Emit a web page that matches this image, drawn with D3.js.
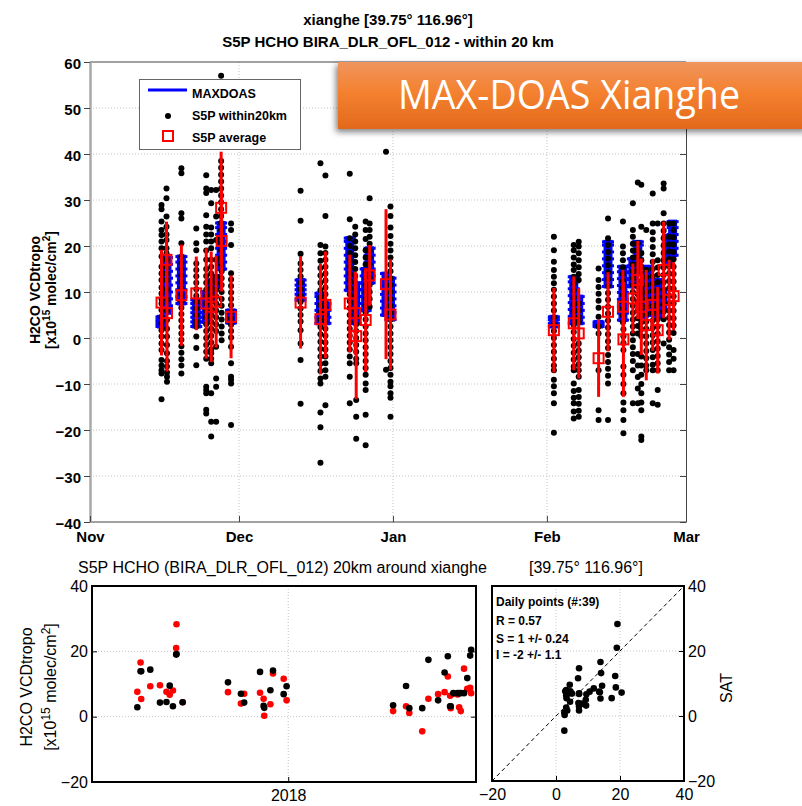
<!DOCTYPE html>
<html>
<head>
<meta charset="utf-8">
<script src="https://cdn.jsdelivr.net/npm/d3@7"></script>
<style>
  body { margin: 0; background: #fff; }
  svg { display: block; font-family: "Liberation Sans", Arial, sans-serif; }
</style>
</head>
<body>
<script>
// ---- data (days counted from 1 Nov 2017) ----
var monthDays = [0, 30, 61, 92, 120];
var monthNames = ["Nov", "Dec", "Jan", "Feb", "Mar"];
var mainYTicks = [-40, -30, -20, -10, 0, 10, 20, 30, 40, 50, 60];

// S5P overpasses: day, average, std and the single pixels within 20 km
var satDay = [14.4, 15.4, 15.5, 18.4, 21.4, 23.4, 24.4, 25.4, 26.4, 26.5, 28.4,
  42.4, 46.4, 47.4, 52.3, 53.4, 53.6, 55.5, 56.3, 59.6, 60.5,
  93.4, 97.4, 98.4, 102.4, 104.3, 107.3, 107.4, 109.3, 110.3, 111.0, 112.0, 113.3, 114.3, 115.5, 116.6, 117.5];
var satAvg = [7.7, 17.0, 5.4, 9.3, 9.7, 7.5, 6.8, 7.9, 28.3, 21.1, 4.6,
  7.7, 4.1, 7.2, 7.5, 5.4, 0.4, 3.9, 13.6, 11.7, 5.1,
  1.7, 3.2, 1.0, -4.4, 5.7, 6.8, -0.3, 8.6, 12.6, 6.8, 2.8, 7.2, 1.7, 14.8, 8.3, 9.1];
var satStd = [11.5, 8.3, 12.7, 11, 8, 12, 12, 10, 12.2, 11, 9,
  10, 12, 11.6, 10.6, 9, 13.7, 11.3, 6.6, 16.3, 12,
  9.2, 10.2, 9.8, 8.4, 8.6, 8, 12.5, 7.6, 8.5, 10.5, 12, 10, 9.4, 10.5, 8.7, 7.4];
var satPixels = [
  [28.9, 28, 25.3, 23.5, 22.4, 21, 19.5, 17.7, 15.5, 14, 12.6, 11, 9.7, 8.5, 7.5, 6.1, 4.6, 3.2, 1.7, 0.3, -1.2, -2.6, -4.8, -6, -7, -7.7, -13.3],
  [32.5, 30.4, 26.4, 24.2, 22.5, 21.3, 19.5, 18.4, 17, 15.5, 14, 12.6],
  [10.5, 8.3, 6, 3.9, 2, 0.3, -1.5, -3.3, -5, -6.2, -7.5, -8.4, -9.5],
  [36.9, 35.8, 27.1, 26, 20.6, 17.7, 16.3, 15, 13.6, 12.2, 10.8, 9.4, 8, 6.6, 5.2, 3.8, 2.4, 1, -0.4, -1.8, -3.2, -4.6, -6, -7.7],
  [23.8, 20.6, 19.1, 16.2, 14.8, 13.4, 12, 10.6, 9.2, 7.8, 6.4, 5, 3.6, 2.5, 0.3, -2.2, -5.9],
  [35.4, 32.5, 31.5, 26.7, 24.2, 22.5, 21, 19, 17, 15, 13.5, 12, 10.5, 9, 7.5, 6, 4.5, 3, 1.5, 0, -1.5, -3, -4.5, -10.6, -11.3, -12, -15.6, -16.4],
  [32.2, 29.3, 24, 22.5, 21, 19.5, 17, 15.5, 14, 12.5, 11, 9.5, 8, 6.5, 5, 3.5, 2, 0.5, -1, -2.5, -3.3, -4.5, -5.5, -12, -18.2, -21.4],
  [32.2, 26.4, 21.3, 17, 13.3, 12, 10.5, 9, 7.5, 6, 4.5, 3, 1.5, -1.9, -8.8, -10.6, -18.2],
  [57, 38.5, 37, 35.5, 34, 32.5, 31, 29.5, 28, 26.5, 25, 23.5, 22, 20.5, 19, 17.5, 16],
  [14.5, 13, 11.5, 10, 8.5, 7, 5.5, 4, 2.5, 1, -0.5],
  [24.9, 23.5, 20.2, 14.1, 12.7, 11.3, 9.9, 8.5, 7.1, 5.7, 4.3, 2.9, 1.5, 0.1, -1.9, -5.5, -8.4, -9.1, -9.9, -18.9],
  [32, 25.5, 18.3, 16.2, 14.8, 13.4, 12, 10.6, 9.2, 7.8, 6.4, 5, 3.6, 1.7, -1.2, -4.8, -14.3],
  [38, 20.2, 18.4, 16.8, 15.2, 13.6, 12, 10.4, 8.8, 7.2, 5.6, 4, 2.4, 0.8, -0.8, -2.4, -4, -5.6, -7.2, -8.8, -9.9, -16.2, -19.4, -27.1],
  [35.3, 26.5, 19.9, 18.5, 17, 15.5, 14, 12.5, 11, 9.5, 8, 6.5, 5, 3.5, 2, 0.5, -1, -2.5, -4, -5.5, -7, -8.4, -14.6],
  [35.7, 25.8, 21.7, 20, 18.5, 17, 15.5, 14, 12.5, 11, 9.5, 8, 6.5, 5, 3.5, 2, 0.5, -1, -2.5, -4, -5.5, -8.4, -14.2],
  [24.2, 22.5, 21, 19.5, 18, 16.5, 15, 13.5, 12, 10.5, 9, 7.5, 6],
  [4.5, 3, 1.5, 0, -1.5, -3, -4.5, -5.5, -13.5, -17.1, -21.9],
  [25.3, 23.5, 21.5, 19.1, 17.5, 16, 14.5, 13, 11.5, 10, 8.5, 7, 5.5, 4, 2.5, 1, -0.5, -2, -3.5, -5, -6.5, -8, -9.9, -11.3, -16.7, -23.3],
  [30.4, 24.9, 23.5, 22, 20.5, 19, 17.5, 16, 14.5, 13, 11.5, 10, 8.5, 6.8],
  [40.5, -6.9],
  [28.6, 26.5, 24, 22.2, 20.5, 19, 17.5, 16, 14.5, 13, 11.5, 10, 8.5, 7, 5.5, 4, 2.5, 1, -0.5, -2, -3.5, -5, -6.5, -8, -9.5, -10.5, -12, -13, -17.1],
  [22, 19.1, 16.6, 14.8, 13.3, 11.9, 10.5, 9, 7.5, 6, 4.5, 3, 1.5, 0, -1.5, -3, -4.5, -6, -7, -9.1, -10.5, -12, -14.2, -20.6],
  [20.2, 19.1, 17.5, 16, 14.8, 13.3, 11.8, 10.3, 8.8, 7.3, 5.8, 4.3, 2.8, 1.3, -0.2, -1.7, -3.2, -4.7, -6.2, -7, -9.9, -11.5, -13, -14.2, -16, -17.5],
  [20.9, 19.9, 18.4, 16.9, 15.4, 13.9, 12.6, 7.5, 6, 4.5, 3.5, -1.2, -2.7, -4.2, -5.7, -7, -8.4, -11.3, -12.8, -14.3, -15.8, -17.1],
  [15.1, 12.6, 11.1, 9.6, 8.1, 6.6, 4.6, 2.5, 1, -7, -15.7, -17.8],
  [26, 21.7, 20.2, 18.7, 17.3, 15.8, 14.3, 12.8, 11.3, 9.8, 8.3, 6.8, 5.3, 3.8, 2.3, 0.8, -0.7, -2.2, -3.7, -5.2, -6.7, -8.2, -9.9, -17.8],
  [25.3, 19.9, 18.4, 16.9, 15.4, 13.9, 12.4, 10.9, 9.4, 7.9, 6.4, 4.9, 3.4],
  [1.9, 0.4, -1.1, -2.6, -6.2, -8, -10, -12, -14, -15.7, -17.8, -20.7],
  [29.3, 23.5, 22, 20.5, 19, 17.5, 16, 14.5, 13, 11.5, 10, 8.5, 7, 5.5, 4, 2.5, 1, -0.5, -2, -3.5, -5, -7, -14.2],
  [33.8, 20.6, 19.1, 17.6, 16.1, 14.8, 11.2, 9.5, 7.8, 6, 4.3, 2.6, 1, -3.5, -6, -8.5, -11, -14.2],
  [33.3, 24.2, 18.4, 16.9, 15.4, 13.9, 12.4, 10.9, 9.4, 7.9, 6.4, 4.9, 3.4, 1.9, 0.4, -4, -6, -8, -10, -12, -14, -15.7, -21.4, -22.2],
  [23.5, 14.8, 13.2, 11.6, 10, 8.4, 6.8, 5.2, 3.6, 2, 0.4, -1.2, -2.8, -4.4, -6, -7],
  [31.4, 24.9, 23, 21.4, 19.8, 18.2, 16.6, 15, 13.4, 11.8, 10.2, 8.6, 7, 5.4, 3.8, 2.2, 0.6, -1, -2.6, -4.2, -5.8, -7, -14.2],
  [24.9, 16.9, 15.3, 13.7, 12.1, 10.5, 8.9, 7.3, 5.7, 4.1, 2.5, 0.9, -0.7, -2.3, -3.9, -5.5, -7, -11.3, -14.5],
  [33.6, 32.5, 27.1, 24.9, 23.3, 21.7, 20.1, 18.5, 16.9, 15.3, 13.7, 12.1, 10.5, 8.9, 7.3, 5.7, 4.1, -1.2],
  [24.9, 22, 20.4, 18.8, 17.2, 15.6, 14, 12.4, 10.8, 9.2, 7.6, 6, 4.4, 2.8, 1.2, -0.4, -2, -3.6, -5.2, -7],
  [24.9, 23.5, 21.9, 20.3, 18.7, 17.1, 15.5, 13.9, 12.3, 10.7, 9.1, 7.5, 5.9, 4.3, 2.7, 1.1, -2.6, -4.5, -7]
];

// MAXDOAS measurements per day
var doasDay = [14.4, 15.5, 18.4, 21.4, 23.4, 24.4, 25.4, 26.4, 28.4,
  42.4, 46.4, 47.4, 52.3, 53.5, 55.5, 56.3, 59.6, 60.5,
  93.4, 97.4, 98.4, 102.4, 104.3, 107.3, 109.3, 110.3, 111.3, 112.3, 113.3, 114.3, 115.3, 116.3, 117.3];
var doasVals = [
  [2.5, 3.0, 3.5, 4.0, 4.6],
  [5.5, 7, 8.5, 10, 11.5, 13, 14.5, 16, 17.5],
  [7.5, 9, 10.5, 12, 13.5, 15, 16.5, 17.7],
  [2.5, 3.5, 4.5, 5.5, 6.5, 7.5, 8.3],
  [3.5, 4.5, 5.5, 7, 8.5, 10],
  [8, 9.5, 11, 12.5],
  [11, 12.3, 13.5],
  [15, 16.5, 18, 19.5, 21, 22.5, 24, 25],
  [3.3, 4.2, 5, 6],
  [8.3, 9.5, 10.5, 11.5, 12.6],
  [3.2, 4.5, 6, 7.5, 9, 9.7],
  [3.2, 4.5, 6, 7.5],
  [10.4, 12, 13.5, 15, 16.5, 18, 19.5, 21, 21.7],
  [3.2, 4.5, 6, 7.5, 9, 10.5, 11.9],
  [6, 7.5, 9, 10.5, 12, 13.5, 15],
  [12, 13.5, 15, 16.5, 18, 19.5],
  [5, 6.5, 8, 9.5, 11, 12.5, 14],
  [4, 5.5, 7, 8.5, 10, 11.5, 13],
  [2.5, 3.2, 4, 4.6],
  [3.2, 4.7, 6.2, 7.7, 9.2, 10.7, 12.2, 13.3],
  [3.2, 4.5, 6, 7.5, 9],
  [2.5, 3, 3.5],
  [11.2, 12.7, 14.2, 15.7, 17.2, 18.7, 20.2, 20.9],
  [3.9, 5.4, 6.9, 8.4, 9.9, 11.4, 12.9, 14.4, 15.5],
  [11.2, 12.7, 14.2, 15.7, 17.2],
  [14.2, 15.7, 17.2, 18.7, 20.2, 20.9],
  [4.6, 6, 7.5, 9, 10.5],
  [7.5, 9, 10.5, 12, 13.5, 15.5],
  [5, 6.5, 8, 9.5, 11],
  [4.6, 6, 7.5, 9, 10.5, 12, 12.6],
  [6, 7.5, 9, 10.5],
  [16.2, 17.7, 19.2, 20.7, 22.2],
  [18, 19.5, 21, 22.5, 24, 25.3]
];

// daily coincident pairs (bottom panels)
var pairDay = [14.4, 15.4, 15.6, 18.4, 21.4, 23.4, 24.4, 25.4, 26.4, 26.5, 28.4,
  42.4, 46.4, 47.4, 52.3, 53.4, 53.6, 55.5, 56.3, 59.6, 60.5,
  93.4, 97.4, 98.4, 102.4, 104.3, 107.3, 109.3, 110.3, 111.0, 111.2, 112.0, 113.3, 113.8, 114.3, 115.3, 116.3, 117.2, 117.5];
var pairSat = [7.6, 16.6, 5.4, 9.3, 9.6, 7.6, 6.7, 8.0, 21.0, 28.3, 4.4,
  7.5, 4.0, 7.0, 7.3, 5.5, 0.3, 3.8, 13.2, 11.6, 5.0,
  1.7, 3.2, 1.1, -4.5, 5.5, 6.9, 7.5, 12.3, 6.4, 2.6, 7.0, 6.8, 2.9, 1.7, 14.7, 8.5, 8.8, 7.2];
var pairDoas = [2.9, 13.9, 13.9, 14.4, 4.3, 4.5, 9.5, 3.2, 19.0, 19.2, 4.4,
  10.5, 7.0, 4.3, 13.7, 3.3, 2.7, 8.1, 14.1, 6.9, 9.3,
  3.5, 9.4, 2.6, 2.6, 17.4, 5.0, 13.5, 18.5, 3.2, 3.2, 7.2, 7.2, 7.2, 7.2, 7.2, 11.8, 18.7, 20.5];

var smallYTicks = [-20, 0, 20, 40];
var yearTickDay = [61];
var yearTickLabel = ["2018"];
var scatterTicks = [-20, 0, 20, 40];
var statLines = ["Daily points (#:39)", "R = 0.57", "S = 1 +/- 0.24", "I = -2 +/- 1.1"];

// ---- drawing ----
var width = 802, height = 806;
var svg = d3.select("body").append("svg")
  .attr("width", width)
  .attr("height", height);

var defs = svg.append("defs");
var grad = defs.append("linearGradient").attr("id", "bannerGrad")
  .attr("x1", 0).attr("y1", 0).attr("x2", 0).attr("y2", 1);
grad.append("stop").attr("offset", "0%").attr("stop-color", "#F0955E");
grad.append("stop").attr("offset", "45%").attr("stop-color", "#F4812F");
grad.append("stop").attr("offset", "100%").attr("stop-color", "#E2691C");
var shadow = defs.append("filter").attr("id", "shadow")
  .attr("x", "-10%").attr("y", "-20%").attr("width", "120%").attr("height", "150%");
shadow.append("feDropShadow").attr("dx", -2).attr("dy", 3)
  .attr("stdDeviation", 3).attr("flood-color", "#000").attr("flood-opacity", 0.5);

var gridStyle = function(sel) {
  sel.style("stroke", "#c4c4c4").style("stroke-width", 1).style("stroke-dasharray", "1,2");
};

// main panel
var x = d3.scaleLinear().domain([0, 120]).range([90, 686]);
var y = d3.scaleLinear().domain([-40, 60]).range([522, 62]);

svg.append("g").selectAll("line")
  .data(mainYTicks.slice(1, -1))
  .enter().append("line")
  .attr("x1", 90).attr("x2", 686)
  .attr("y1", function(d) { return y(d); })
  .attr("y2", function(d) { return y(d); })
  .call(gridStyle);

svg.append("g").selectAll("line")
  .data(monthDays.slice(1, -1))
  .enter().append("line")
  .attr("x1", function(d) { return x(d); })
  .attr("x2", function(d) { return x(d); })
  .attr("y1", 62).attr("y2", 522)
  .call(gridStyle);

// MAXDOAS blue blocks (one short cap per measurement, joined by a thick bar)
var doas = svg.append("g");
doasDay.forEach(function(day, i) {
  var vals = doasVals[i];
  doas.append("rect")
    .attr("x", x(day) - 4.5)
    .attr("y", y(d3.max(vals)) - 2)
    .attr("width", 9)
    .attr("height", y(d3.min(vals)) - y(d3.max(vals)) + 4)
    .style("fill", "#0000ff");
  doas.selectAll(null)
    .data(vals)
    .enter().append("rect")
    .attr("x", x(day) - 6)
    .attr("y", function(d) { return y(d) - 1.5; })
    .attr("width", 12)
    .attr("height", 3)
    .style("fill", "#0000ff");
});

// S5P single pixels
var pix = svg.append("g");
satDay.forEach(function(day, i) {
  pix.selectAll(null)
    .data(satPixels[i])
    .enter().append("circle")
    .attr("cx", x(day))
    .attr("cy", function(d) { return y(d); })
    .attr("r", 3)
    .style("fill", "#000");
});

// S5P average with std bars
var avg = svg.append("g");
avg.selectAll("line")
  .data(satDay)
  .enter().append("line")
  .attr("x1", function(d) { return x(d); })
  .attr("x2", function(d) { return x(d); })
  .attr("y1", function(d, i) { return y(satAvg[i] - satStd[i]); })
  .attr("y2", function(d, i) { return y(satAvg[i] + satStd[i]); })
  .style("stroke", "#ff0000").style("stroke-width", 3);
avg.selectAll("rect")
  .data(satDay)
  .enter().append("rect")
  .attr("x", function(d) { return x(d) - 5; })
  .attr("y", function(d, i) { return y(satAvg[i]) - 5; })
  .attr("width", 10).attr("height", 10)
  .style("fill", "none").style("stroke", "#ff0000").style("stroke-width", 2);

// frame and axes
svg.append("line").attr("x1", 90).attr("x2", 686).attr("y1", 62).attr("y2", 62)
  .style("stroke", "#444").style("stroke-width", 1);
svg.append("line").attr("x1", 90).attr("x2", 686).attr("y1", 522).attr("y2", 522)
  .style("stroke", "#444").style("stroke-width", 1);

var yAxisL = svg.append("g").attr("transform", "translate(90,0)")
  .call(d3.axisLeft(y).tickValues(mainYTicks).tickSize(6).tickSizeOuter(0).tickPadding(3));
yAxisL.select(".domain").style("stroke", "#a8a8a8").style("stroke-width", 2.5);
yAxisL.selectAll(".tick line").style("stroke", "#444");
yAxisL.selectAll("text").style("font-size", "15px").style("font-weight", "bold")
  .style("font-family", "'Liberation Sans', Arial, sans-serif").attr("dy", "0.45em");

var yAxisR = svg.append("g").attr("transform", "translate(686,0)")
  .call(d3.axisRight(y).tickValues(mainYTicks).tickSize(-6).tickSizeOuter(0).tickFormat(""));
yAxisR.select(".domain").style("stroke", "#444");
yAxisR.selectAll(".tick line").style("stroke", "#444");

var xAxisM = svg.append("g").attr("transform", "translate(0,522)")
  .call(d3.axisBottom(x).tickValues(monthDays).tickSize(-6).tickSizeOuter(0).tickPadding(9)
    .tickFormat(function(d, i) { return monthNames[i]; }));
xAxisM.select(".domain").remove();
xAxisM.selectAll(".tick line").style("stroke", "#444");
xAxisM.selectAll("text").style("font-size", "15px").style("font-weight", "bold")
  .style("font-family", "'Liberation Sans', Arial, sans-serif");

// titles
var title = svg.append("g").style("font-weight", "bold").style("font-size", "15px")
  .attr("text-anchor", "middle");
title.append("text").attr("x", 388).attr("y", 25).text("xianghe [39.75° 116.96°]");
title.append("text").attr("x", 388).attr("y", 47).text("S5P HCHO BIRA_DLR_OFL_012 - within 20 km");

function unitLabel(g, px, py, size) {
  var t = g.append("text")
    .attr("transform", "translate(" + px + "," + py + ") rotate(-90)")
    .attr("text-anchor", "middle");
  t.append("tspan").text("[x10");
  t.append("tspan").text("15").attr("dy", -6).style("font-size", (size - 4) + "px");
  t.append("tspan").text(" molec/cm").attr("dy", 6);
  t.append("tspan").text("2").attr("dy", -6).style("font-size", (size - 4) + "px");
  t.append("tspan").text("]").attr("dy", 6);
}

var ylab = svg.append("g").style("font-weight", "bold").style("font-size", "14px");
ylab.append("text").attr("transform", "translate(40,290) rotate(-90)")
  .attr("text-anchor", "middle").text("H2CO VCDtropo");
unitLabel(ylab, 56, 290, 14);

// legend
var legend = svg.append("g");
legend.append("rect").attr("x", 139.5).attr("y", 79.5).attr("width", 161).attr("height", 70)
  .style("fill", "#fff").style("stroke", "#666").style("stroke-width", 1);
legend.append("line").attr("x1", 148).attr("x2", 187).attr("y1", 90).attr("y2", 90)
  .style("stroke", "#0000ff").style("stroke-width", 3);
legend.append("circle").attr("cx", 168).attr("cy", 116).attr("r", 3).style("fill", "#000");
legend.append("rect").attr("x", 163).attr("y", 131).attr("width", 10).attr("height", 10)
  .style("fill", "none").style("stroke", "#ff0000").style("stroke-width", 2);
legend.selectAll("text.leg")
  .data(["MAXDOAS", "S5P within20km", "S5P average"])
  .enter().append("text").attr("class", "leg")
  .attr("x", 192)
  .attr("y", function(d, i) { return [98, 120, 142][i]; })
  .style("font-weight", "bold").style("font-size", "12.5px")
  .text(function(d) { return d; });

// bottom-left time series
var x2 = d3.scaleLinear().domain([0.4, 119]).range([92, 476]);
var y2 = d3.scaleLinear().domain([-20, 40]).range([782, 586]);

svg.append("g").selectAll("line")
  .data([0, 20])
  .enter().append("line")
  .attr("x1", 92).attr("x2", 476)
  .attr("y1", function(d) { return y2(d); })
  .attr("y2", function(d) { return y2(d); })
  .call(gridStyle);
svg.append("g").selectAll("line")
  .data(yearTickDay)
  .enter().append("line")
  .attr("x1", function(d) { return x2(d); })
  .attr("x2", function(d) { return x2(d); })
  .attr("y1", 586).attr("y2", 782)
  .call(gridStyle);

svg.append("g").selectAll("circle")
  .data(pairDay)
  .enter().append("circle")
  .attr("cx", function(d) { return x2(d); })
  .attr("cy", function(d, i) { return y2(pairSat[i]); })
  .attr("r", 3.3).style("fill", "#ff0000");
svg.append("g").selectAll("circle")
  .data(pairDay)
  .enter().append("circle")
  .attr("cx", function(d) { return x2(d); })
  .attr("cy", function(d, i) { return y2(pairDoas[i]); })
  .attr("r", 3.3).style("fill", "#000");

var ax2 = svg.append("g").attr("transform", "translate(92,0)")
  .call(d3.axisLeft(y2).tickValues(smallYTicks).tickSize(-5).tickSizeOuter(0).tickPadding(4));
var ax2r = svg.append("g").attr("transform", "translate(476,0)")
  .call(d3.axisRight(y2).tickValues(smallYTicks).tickSize(-5).tickSizeOuter(0).tickFormat(""));
var ax2b = svg.append("g").attr("transform", "translate(0,782)")
  .call(d3.axisBottom(x2).tickValues(yearTickDay).tickSize(-5).tickSizeOuter(0).tickPadding(8)
    .tickFormat(function(d, i) { return yearTickLabel[i]; }));
[ax2, ax2r, ax2b].forEach(function(a) {
  a.select(".domain").remove();
  a.selectAll("text").style("font-size", "16px")
    .style("font-family", "'Liberation Sans', Arial, sans-serif");
});
svg.append("rect").attr("x", 92).attr("y", 586).attr("width", 384).attr("height", 196)
  .style("fill", "none").style("stroke", "#000").style("stroke-width", 2);

svg.append("text").attr("x", 78).attr("y", 573).style("font-size", "16px")
  .text("S5P HCHO (BIRA_DLR_OFL_012) 20km around xianghe");
svg.append("text").attr("x", 529).attr("y", 573).style("font-size", "16px")
  .text("[39.75° 116.96°]");

var ylab2 = svg.append("g").style("font-size", "16px");
ylab2.append("text").attr("transform", "translate(32,687) rotate(-90)")
  .attr("text-anchor", "middle").text("H2CO VCDtropo");
unitLabel(ylab2, 56, 687, 16);

// bottom-right scatter
var xs = d3.scaleLinear().domain([-20, 40]).range([492, 684]);
var ys = d3.scaleLinear().domain([-20, 40]).range([781, 586]);

svg.append("g").selectAll("line")
  .data([0, 20])
  .enter().append("line")
  .attr("x1", 492).attr("x2", 684)
  .attr("y1", function(d) { return ys(d); })
  .attr("y2", function(d) { return ys(d); })
  .call(gridStyle);
svg.append("g").selectAll("line")
  .data([0, 20])
  .enter().append("line")
  .attr("x1", function(d) { return xs(d); })
  .attr("x2", function(d) { return xs(d); })
  .attr("y1", 586).attr("y2", 781)
  .call(gridStyle);

svg.append("line")
  .attr("x1", xs(-20)).attr("y1", ys(-20))
  .attr("x2", xs(40)).attr("y2", ys(40))
  .style("stroke", "#000").style("stroke-width", 1).style("stroke-dasharray", "4,3");

svg.append("g").selectAll("circle")
  .data(pairDoas)
  .enter().append("circle")
  .attr("cx", function(d) { return xs(d); })
  .attr("cy", function(d, i) { return ys(pairSat[i]); })
  .attr("r", 3.3).style("fill", "#000");

var axsR = svg.append("g").attr("transform", "translate(684,0)")
  .call(d3.axisRight(ys).tickValues(scatterTicks).tickSize(-5).tickSizeOuter(0).tickPadding(4));
var axsB = svg.append("g").attr("transform", "translate(0,781)")
  .call(d3.axisBottom(xs).tickValues(scatterTicks).tickSize(-5).tickSizeOuter(0).tickPadding(8));
[axsR, axsB].forEach(function(a) {
  a.select(".domain").remove();
  a.selectAll("text").style("font-size", "16px")
    .style("font-family", "'Liberation Sans', Arial, sans-serif");
});
svg.append("rect").attr("x", 492).attr("y", 586).attr("width", 192).attr("height", 195)
  .style("fill", "none").style("stroke", "#000").style("stroke-width", 2);

svg.append("g").selectAll("text")
  .data(statLines)
  .enter().append("text")
  .attr("x", 496)
  .attr("y", function(d, i) { return [606, 625, 643, 659][i]; })
  .style("font-size", "12px").style("font-weight", "bold")
  .text(function(d) { return d; });

svg.append("text").attr("transform", "translate(732,688) rotate(-90)")
  .attr("text-anchor", "middle").style("font-size", "16px").text("SAT");

// orange banner on top
svg.append("rect").attr("x", 338).attr("y", 62).attr("width", 470).attr("height", 67)
  .style("fill", "url(#bannerGrad)").attr("filter", "url(#shadow)");
svg.append("text").attr("x", 569).attr("y", 109)
  .attr("text-anchor", "middle")
  .attr("textLength", 342).attr("lengthAdjust", "spacingAndGlyphs")
  .style("fill", "#fff").style("font-family", "'Open Sans', Lato, sans-serif")
  .style("font-size", "40px")
  .text("MAX-DOAS Xianghe");
</script>
</body>
</html>
